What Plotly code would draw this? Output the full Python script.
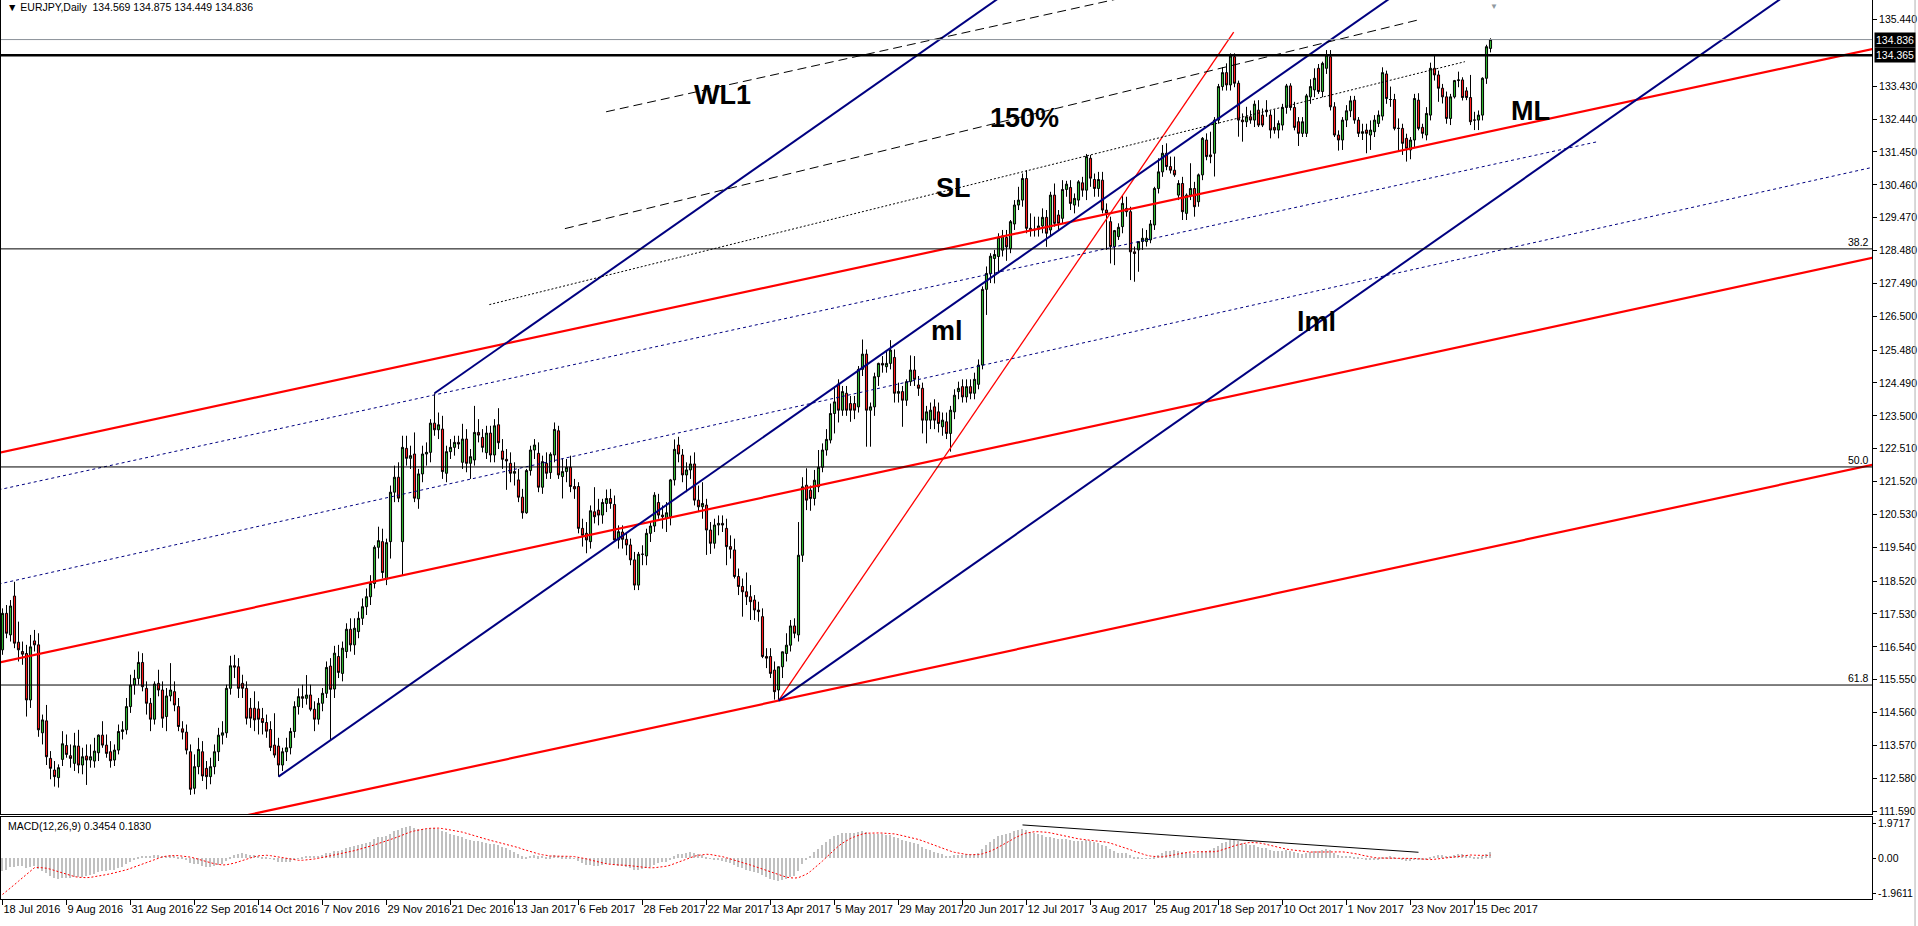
import plotly.graph_objects as go

# EURJPY daily candles, bar 0 = 18 Jul 2016, last bar = 21 Dec 2017
opens = [
    116.45, 117.55, 116.90, 118.07, 116.68, 116.40, 116.34, 114.94, 116.72, 116.60,
    113.95, 114.31, 113.18, 112.83, 112.60, 113.15, 113.57, 113.26, 113.03, 113.55,
    112.98, 113.25, 113.13, 113.10, 113.35, 113.88, 113.58, 113.38, 113.13, 113.43,
    113.99, 114.04, 114.74, 115.39, 115.59, 116.07, 115.29, 114.84, 114.36, 115.44,
    115.24, 114.44, 115.06, 115.19, 114.74, 114.07, 113.97, 113.38, 112.28, 112.93,
    113.38, 112.88, 112.63, 112.93, 113.38, 113.88, 113.95, 115.29, 115.97, 115.94,
    115.44, 115.29, 114.69, 114.69, 114.67, 114.38, 114.26, 114.05, 113.58, 113.55,
    112.98, 113.38, 113.50, 113.99, 114.74, 115.04, 114.99, 115.09, 114.66, 114.36,
    114.84, 115.14, 115.96, 115.27, 116.25, 115.74, 116.40, 117.07, 116.60, 117.00,
    117.40, 117.75, 118.05, 118.45, 119.54, 119.71, 118.58, 119.71, 121.20, 121.65,
    119.71, 122.52, 122.22, 122.35, 121.00, 121.75, 122.35, 122.40, 123.28, 123.08,
    123.10, 121.77, 122.42, 122.55, 122.70, 122.10, 122.80, 122.07, 122.17, 123.00,
    122.85, 122.39, 122.98, 122.32, 123.23, 122.44, 122.19, 122.07, 121.77, 121.57,
    121.05, 120.58, 121.85, 122.47, 122.37, 121.35, 122.07, 121.79, 122.32, 123.05,
    121.67, 121.82, 121.95, 121.37, 121.37, 120.11, 119.96, 119.71, 120.61, 120.66,
    120.51, 120.86, 121.01, 120.83, 119.76, 120.00, 119.78, 119.61, 119.16, 118.40,
    119.33, 119.28, 119.96, 120.18, 120.89, 120.51, 120.41, 120.46, 121.57, 122.62,
    122.32, 121.72, 121.87, 122.05, 120.96, 120.76, 120.81, 120.06, 119.66, 120.21,
    120.26, 120.11, 119.56, 119.46, 118.66, 118.36, 118.20, 118.05, 117.95, 117.65,
    117.45, 116.25, 116.25, 115.84, 115.24, 115.94, 116.34, 116.59, 117.17, 116.90,
    119.30, 121.41, 121.26, 121.01, 121.36, 121.95, 122.47, 122.77, 123.57, 124.46,
    123.67, 124.18, 123.87, 123.87, 123.77, 124.90, 125.36, 123.67, 123.77, 124.68,
    125.08, 124.98, 125.08, 125.26, 124.18, 124.23, 123.97, 124.53, 124.88, 124.43,
    124.33, 123.37, 123.37, 123.77, 123.62, 123.17, 123.32, 122.97, 123.62, 124.23,
    124.38, 124.07, 124.38, 124.18, 124.45, 125.03, 127.31, 127.79, 128.24, 128.30,
    128.49, 128.87, 128.54, 129.28, 129.85, 130.00, 130.65, 129.15, 129.10, 129.12,
    129.22, 129.48, 129.10, 130.15, 129.55, 129.45, 130.32, 130.38, 129.85, 130.00,
    130.52, 130.30, 131.26, 130.62, 130.35, 130.60, 129.70, 129.35, 128.60, 128.90,
    129.20, 129.75, 129.65, 128.44, 128.50, 128.75, 128.75, 128.80, 129.25, 130.35,
    130.85, 131.41, 131.01, 130.90, 130.15, 130.50, 129.60, 130.15, 130.35, 129.95,
    130.76, 131.81, 131.36, 131.41, 132.41, 133.42, 133.84, 133.47, 134.32, 133.52,
    132.41, 132.36, 132.51, 132.41, 132.71, 132.56, 132.71, 132.56, 132.19, 132.11,
    132.26, 132.79, 133.44, 132.79, 132.36, 132.01, 132.01, 133.11, 133.32, 133.97,
    133.27, 133.97, 134.32, 132.81, 131.96, 131.81, 132.41, 132.69, 133.01, 132.41,
    132.01, 132.11, 131.96, 132.06, 132.31, 132.53, 133.80, 133.03, 133.03, 132.16,
    132.16, 131.86, 131.51, 131.81, 133.01, 132.19, 131.96, 132.56, 133.97, 133.77,
    133.37, 133.11, 132.46, 133.11, 133.60, 133.62, 133.29, 133.09, 132.41, 132.41,
    132.56, 133.67, 134.569,
]
highs = [
    117.70, 117.80, 117.95, 118.50, 117.30, 116.70, 116.60, 116.90, 117.05, 116.95,
    114.50, 114.79, 113.40, 113.10, 113.00, 114.00, 113.90, 113.60, 113.95, 114.04,
    113.50, 113.60, 113.60, 113.80, 113.90, 114.30, 113.90, 113.70, 113.60, 114.20,
    114.30, 115.00, 115.70, 115.85, 116.40, 116.35, 115.50, 115.00, 115.50, 115.85,
    115.50, 115.30, 116.05, 115.50, 115.00, 114.30, 114.20, 113.60, 113.30, 113.80,
    113.70, 113.10, 113.20, 113.60, 114.10, 114.30, 115.40, 116.27, 116.30, 116.20,
    115.70, 115.50, 115.00, 115.20, 114.90, 114.70, 114.50, 114.30, 114.54, 113.80,
    113.50, 113.80, 114.10, 114.90, 115.29, 115.40, 115.69, 115.40, 114.90, 115.00,
    115.30, 116.10, 116.20, 116.57, 116.60, 116.70, 117.25, 117.40, 117.40, 117.60,
    118.00, 118.30, 118.70, 119.60, 120.16, 120.10, 119.80, 121.40, 122.00, 122.10,
    122.90, 122.90, 122.60, 123.00, 121.90, 122.60, 122.70, 123.40, 124.18, 123.60,
    123.50, 122.60, 122.80, 122.90, 122.90, 123.26, 123.10, 122.50, 123.80, 123.40,
    123.10, 123.20, 123.20, 123.40, 123.73, 122.80, 122.50, 122.40, 122.10, 121.90,
    121.30, 121.90, 122.60, 122.80, 122.70, 122.30, 122.40, 122.40, 123.30, 123.20,
    122.22, 122.20, 122.30, 121.60, 121.50, 120.40, 120.30, 120.80, 121.35, 121.00,
    121.00, 121.28, 121.30, 121.10, 120.20, 120.20, 120.00, 119.80, 119.40, 119.40,
    119.60, 120.10, 120.30, 121.20, 121.15, 120.80, 120.90, 121.60, 122.79, 122.87,
    122.50, 122.10, 122.30, 122.40, 121.40, 121.50, 121.00, 120.30, 120.40, 120.50,
    120.50, 120.40, 119.90, 119.80, 118.90, 118.60, 118.78, 118.40, 118.10, 117.90,
    117.70, 116.50, 116.50, 116.10, 115.95, 116.40, 116.95, 117.35, 117.40, 120.30,
    121.65, 121.92, 121.40, 121.87, 122.47, 122.67, 123.10, 123.87, 124.38, 124.60,
    124.40, 124.40, 124.10, 124.10, 125.00, 125.80, 125.50, 123.90, 124.80, 125.10,
    125.30, 125.48, 125.78, 125.50, 124.50, 124.40, 124.60, 125.32, 125.30, 124.70,
    124.50, 123.80, 123.90, 124.00, 123.90, 123.60, 123.60, 123.80, 124.30, 124.53,
    124.60, 124.60, 124.60, 124.80, 125.20, 127.40, 128.00, 128.40, 128.50, 129.00,
    129.10, 129.10, 129.40, 130.00, 130.40, 130.80, 130.90, 129.60, 129.50, 129.50,
    129.75, 129.70, 130.25, 130.50, 129.70, 130.60, 130.58, 130.60, 130.20, 130.60,
    130.70, 131.39, 131.36, 130.80, 130.85, 130.85, 129.90, 129.50, 129.10, 129.30,
    130.15, 130.10, 129.80, 128.60, 128.70, 129.15, 129.10, 129.40, 130.40, 131.26,
    131.66, 131.71, 131.31, 131.31, 130.60, 130.70, 130.20, 131.11, 130.55, 130.80,
    131.90, 132.01, 132.06, 132.50, 133.50, 134.00, 134.12, 134.42, 134.42, 133.60,
    132.61, 132.81, 132.70, 133.00, 133.01, 132.76, 133.01, 132.70, 132.73, 132.40,
    132.90, 133.50, 133.52, 132.96, 132.50, 132.50, 133.20, 133.64, 133.97, 134.10,
    134.17, 134.52, 134.52, 132.95, 132.10, 132.50, 132.86, 133.14, 133.14, 132.50,
    132.30, 132.30, 132.40, 132.56, 132.70, 134.00, 133.90, 133.42, 133.20, 132.46,
    132.30, 132.00, 131.90, 133.20, 133.22, 132.30, 132.80, 134.14, 134.40, 133.90,
    133.50, 133.27, 133.20, 133.62, 133.87, 133.70, 133.40, 133.77, 132.66, 132.70,
    133.70, 134.68, 134.875,
]
lows = [
    116.30, 116.80, 116.70, 116.50, 116.10, 116.00, 114.44, 114.70, 116.40, 113.83,
    113.60, 112.98, 112.55, 112.33, 112.30, 112.95, 113.20, 112.90, 112.80, 112.73,
    112.70, 112.38, 112.90, 112.90, 113.10, 113.50, 113.20, 112.90, 112.95, 113.30,
    113.75, 113.90, 114.55, 115.10, 115.40, 115.20, 114.50, 114.00, 114.20, 115.05,
    114.10, 114.00, 114.90, 114.60, 114.00, 113.75, 113.30, 112.08, 112.10, 112.70,
    112.50, 112.25, 112.40, 112.70, 113.10, 113.60, 113.80, 115.10, 115.60, 115.00,
    115.00, 114.20, 114.10, 114.00, 113.90, 113.90, 113.80, 113.40, 113.20, 112.63,
    112.80, 113.10, 113.30, 113.80, 114.50, 114.70, 114.80, 114.60, 114.00, 114.20,
    114.60, 115.00, 113.73, 115.00, 115.60, 115.50, 116.20, 116.40, 116.30, 116.80,
    117.20, 117.50, 117.80, 118.30, 119.20, 118.60, 118.40, 119.20, 120.90, 120.90,
    118.70, 122.00, 121.90, 120.90, 120.70, 121.50, 122.00, 122.10, 122.90, 122.80,
    121.60, 121.50, 122.20, 122.30, 122.50, 121.90, 121.80, 121.60, 122.00, 122.70,
    122.40, 122.20, 122.10, 122.10, 122.50, 121.90, 121.27, 121.50, 121.40, 120.90,
    120.40, 120.55, 121.70, 122.20, 121.20, 121.15, 121.60, 121.60, 122.10, 121.60,
    121.01, 121.50, 121.20, 121.00, 119.96, 119.56, 119.36, 119.50, 120.26, 120.20,
    120.25, 120.60, 120.70, 119.70, 119.50, 119.50, 119.30, 119.00, 118.25, 118.25,
    119.00, 119.00, 119.70, 120.00, 120.40, 120.10, 120.00, 120.20, 121.40, 122.10,
    121.50, 121.20, 121.60, 120.80, 120.60, 120.40, 119.31, 119.34, 119.50, 119.90,
    120.00, 119.00, 119.20, 118.60, 118.10, 117.45, 117.80, 117.35, 117.35, 117.30,
    116.20, 115.90, 115.60, 114.95, 114.92, 115.60, 116.10, 116.40, 116.80, 116.70,
    119.10, 120.66, 120.64, 120.80, 121.20, 121.80, 122.30, 122.67, 122.97, 123.30,
    123.50, 123.50, 123.32, 123.40, 123.60, 124.70, 122.57, 122.57, 123.50, 124.40,
    124.80, 124.80, 124.90, 123.90, 123.90, 123.17, 123.80, 124.40, 124.40, 124.10,
    122.97, 122.67, 123.10, 123.10, 123.00, 122.90, 122.80, 122.42, 123.40, 124.00,
    123.90, 123.90, 124.00, 124.00, 124.30, 124.90, 126.54, 127.50, 127.49, 127.80,
    128.30, 128.17, 128.40, 129.10, 129.70, 129.80, 129.00, 128.90, 128.90, 128.90,
    129.00, 128.59, 128.90, 129.20, 129.10, 129.30, 130.10, 129.70, 129.60, 129.80,
    130.10, 130.00, 130.40, 130.10, 130.10, 129.60, 128.50, 128.09, 128.04, 128.80,
    129.00, 129.50, 127.59, 127.54, 127.84, 128.50, 128.60, 128.70, 129.10, 130.20,
    130.70, 130.90, 130.80, 130.70, 130.00, 129.40, 129.40, 130.00, 129.50, 129.80,
    130.60, 131.20, 131.11, 130.71, 132.30, 133.30, 133.30, 133.30, 133.40, 131.91,
    131.76, 132.20, 132.30, 132.20, 132.20, 132.20, 132.51, 131.86, 132.00, 131.86,
    132.10, 132.60, 132.70, 132.10, 131.63, 131.90, 131.90, 132.90, 133.10, 133.20,
    133.10, 133.80, 132.70, 131.90, 131.49, 131.51, 132.20, 132.50, 132.30, 131.90,
    131.81, 131.41, 131.51, 131.90, 132.20, 132.40, 132.90, 132.81, 132.10, 131.46,
    131.36, 131.16, 131.23, 131.60, 132.10, 131.86, 131.80, 132.40, 133.60, 132.96,
    132.91, 132.30, 132.26, 133.06, 133.40, 133.00, 133.01, 132.26, 132.11, 132.11,
    132.40, 133.50, 134.449,
]
closes = [
    117.55, 116.95, 117.77, 116.65, 116.45, 116.32, 114.94, 116.54, 116.60, 114.04,
    114.34, 113.23, 112.88, 112.63, 112.90, 113.62, 113.30, 113.18, 113.56, 112.98,
    113.23, 113.13, 113.23, 113.40, 113.88, 113.58, 113.33, 113.11, 113.43, 113.99,
    114.04, 114.74, 115.39, 115.59, 116.07, 115.34, 114.84, 114.36, 115.42, 115.24,
    114.39, 115.06, 115.24, 114.79, 114.14, 113.97, 113.43, 112.25, 112.93, 113.45,
    112.65, 112.63, 112.93, 113.38, 113.88, 113.95, 115.29, 115.97, 115.93, 115.29,
    115.29, 114.39, 114.39, 114.34, 114.36, 114.26, 114.00, 113.51, 113.28, 112.98,
    113.38, 113.50, 113.99, 114.74, 115.04, 114.99, 115.09, 114.66, 114.36, 114.84,
    115.14, 115.92, 115.26, 116.35, 115.77, 116.50, 117.07, 116.60, 117.10, 117.40,
    117.75, 118.05, 118.45, 119.54, 119.74, 118.78, 119.68, 121.20, 121.65, 121.02,
    122.55, 122.22, 122.30, 121.02, 121.75, 122.35, 122.40, 123.28, 123.08, 123.23,
    121.82, 122.42, 122.55, 122.70, 122.65, 122.80, 122.07, 122.27, 123.00, 122.92,
    122.55, 122.98, 122.32, 123.20, 122.69, 122.19, 122.14, 121.77, 121.82, 121.05,
    120.58, 121.85, 122.47, 122.62, 121.35, 122.12, 121.77, 122.34, 123.09, 121.72,
    121.82, 121.95, 121.37, 121.30, 120.11, 119.90, 119.76, 120.64, 120.46, 120.51,
    120.89, 121.01, 120.86, 119.76, 120.01, 119.78, 119.61, 119.16, 118.40, 119.33,
    119.33, 119.96, 120.18, 121.11, 120.51, 120.46, 120.58, 121.57, 122.49, 122.35,
    121.72, 121.87, 122.05, 120.96, 120.76, 120.86, 120.06, 119.66, 120.21, 120.26,
    120.21, 119.56, 119.48, 118.66, 118.36, 118.20, 118.05, 117.90, 117.65, 117.60,
    116.25, 116.20, 115.74, 115.19, 115.94, 116.39, 116.59, 117.17, 116.95, 119.30,
    121.36, 120.96, 121.01, 121.56, 121.95, 122.47, 122.79, 123.57, 123.92, 123.67,
    124.23, 123.67, 123.67, 123.67, 124.90, 125.36, 123.67, 123.77, 124.68, 125.08,
    125.03, 125.08, 125.48, 124.18, 124.23, 123.97, 124.53, 124.88, 124.60, 124.33,
    123.37, 123.62, 123.67, 123.37, 123.27, 123.37, 122.97, 123.67, 124.12, 124.33,
    124.07, 124.38, 124.18, 124.60, 125.03, 127.31, 127.79, 128.31, 128.36, 128.88,
    128.92, 128.59, 129.35, 129.85, 130.00, 130.65, 129.15, 129.10, 129.12, 129.22,
    129.48, 129.00, 130.15, 129.30, 129.30, 130.32, 130.48, 129.90, 130.05, 130.55,
    130.30, 131.31, 130.66, 130.35, 130.62, 129.70, 129.60, 128.60, 129.08, 129.18,
    129.90, 129.65, 128.44, 128.39, 128.75, 128.85, 128.85, 129.28, 130.35, 130.85,
    131.41, 131.01, 130.90, 130.76, 130.50, 129.65, 130.15, 130.35, 129.80, 130.76,
    131.86, 131.31, 131.31, 132.41, 133.42, 133.84, 133.47, 134.34, 133.52, 132.41,
    132.36, 132.51, 132.41, 132.89, 132.26, 132.26, 132.66, 132.11, 132.11, 132.31,
    132.79, 133.44, 132.79, 132.19, 132.01, 132.36, 133.14, 133.42, 133.67, 133.27,
    134.12, 134.37, 132.81, 131.96, 131.81, 132.41, 132.69, 132.99, 132.41, 132.01,
    132.06, 132.01, 132.11, 132.41, 132.56, 133.84, 133.06, 133.03, 132.16, 132.16,
    131.71, 131.56, 131.81, 133.06, 132.16, 132.01, 132.61, 133.97, 133.77, 133.37,
    133.11, 132.46, 133.11, 133.60, 133.62, 133.09, 133.09, 132.36, 132.41, 132.56,
    133.67, 134.62, 134.836,
]
bars = list(range(len(closes)))

# date labels on the time scale (bar number -> label)
date_bars = [0, 16, 32, 48, 64, 80, 96, 112, 128, 144, 160, 176,
             192, 208, 224, 240, 256, 272, 288, 304, 320, 336, 352, 368]
date_labels = ["18 Jul 2016", "9 Aug 2016", "31 Aug 2016", "22 Sep 2016", "14 Oct 2016",
               "7 Nov 2016", "29 Nov 2016", "21 Dec 2016", "13 Jan 2017", "6 Feb 2017",
               "28 Feb 2017", "22 Mar 2017", "13 Apr 2017", "5 May 2017", "29 May 2017",
               "20 Jun 2017", "12 Jul 2017", "3 Aug 2017", "25 Aug 2017", "18 Sep 2017",
               "10 Oct 2017", "1 Nov 2017", "23 Nov 2017", "15 Dec 2017"]

price_ticks = [111.590, 112.580, 113.570, 114.560, 115.550, 116.540, 117.530, 118.520,
               119.540, 120.530, 121.520, 122.510, 123.500, 124.490, 125.480, 126.500,
               127.490, 128.480, 129.470, 130.460, 131.450, 132.440, 133.430, 135.440]
macd_ticks = [1.9717, 0.0, -1.9611]
macd_tick_text = ["1.9717", "0.00", "-1.9611"]

bid_price = 134.836
resistance = 134.365
fib_levels = [128.53, 121.96, 115.39]
fib_names = ["38.2", "50.0", "61.8"]

# navy Andrews pitchfork pivots: Oct 2016 low, Dec 2016 high, Apr 2017 low
pitch_bars = [69, 108, 194]
pitch_prices = [112.63, 124.18, 114.92]

# red channel (three parallel lines), price at bar -1 and bar 468
red_left = [122.385, 116.064, 109.854]
red_right = [134.566, 128.276, 122.036]
# red line from the April low to the September top
steep_bars = [194, 307.8]
steep_prices = [114.92, 135.06]

# navy dotted lines
dot_a_bars, dot_a_prices = [-1, 468], [118.43, 131.00]
dot_b_bars, dot_b_prices = [-1, 398.4], [121.27, 131.75]

# black dashed / dotted lines
wl1_bars, wl1_prices = [150.9, 290], [132.66, 136.36]
p150_bars, p150_prices = [140.6, 354], [129.14, 135.43]
sl_bars, sl_prices = [121.7, 365.6], [126.85, 134.17]

# text labels on the chart
tag_names = ["WL1", "150%", "SL", "ml", "lml", "ML"]
tag_bars = [179.9, 255.4, 237.8, 236.1, 328.4, 381.9]
tag_prices = [133.17, 132.46, 130.35, 126.06, 126.33, 132.69]

# MACD(12,26,9) seeds read from the left edge of the indicator window
ema_fast_start = 116.3
ema_slow_start = 117.2
macd_before_start = -2.2
macd_trend_bars = [255, 354]
macd_trend_values = [1.88, 0.34]

fast, slow = ema_fast_start, ema_slow_start
macd_main = []
for c in closes:
    fast += (c - fast) * 2 / 13
    slow += (c - slow) * 2 / 27
    macd_main.append(fast - slow)
padded = [macd_before_start] * 8 + macd_main
macd_signal = [sum(padded[i:i + 9]) / 9 for i in range(len(macd_main))]

FONT = "Liberation Sans"
X_LEFT, X_RIGHT = -0.375, 467.375
NAVY = "#000080"
RED = "#ff0000"

fig = go.Figure()

fig.add_trace(go.Candlestick(
    x=bars, open=opens, high=highs, low=lows, close=closes,
    increasing=dict(line=dict(color="black", width=1), fillcolor="#2fb52f"),
    decreasing=dict(line=dict(color="black", width=1), fillcolor="#ff1a1a"),
    whiskerwidth=0, hoverinfo="skip", xaxis="x", yaxis="y",
))


def add_line(xs, ys, color, width, dash="solid", xa="x", ya="y"):
    fig.add_trace(go.Scatter(x=xs, y=ys, mode="lines", hoverinfo="skip",
                             line=dict(color=color, width=width, dash=dash),
                             xaxis=xa, yaxis=ya))


# red channel
for lp, rp in zip(red_left, red_right):
    add_line([-1, 468], [lp, rp], RED, 2.2)
add_line(steep_bars, steep_prices, RED, 1.3)

# navy pitchfork: median from pivot A through the middle of B and C
mid_bar = (pitch_bars[1] + pitch_bars[2]) / 2
mid_price = (pitch_prices[1] + pitch_prices[2]) / 2
slope = (mid_price - pitch_prices[0]) / (mid_bar - pitch_bars[0])
for b, p in zip(pitch_bars, pitch_prices):
    add_line([b, X_RIGHT + 1], [p, p + slope * (X_RIGHT + 1 - b)], NAVY, 2)

add_line(dot_a_bars, dot_a_prices, NAVY, 1, "3px,3px")
add_line(dot_b_bars, dot_b_prices, NAVY, 1, "3px,3px")

add_line(wl1_bars, wl1_prices, "black", 1, "9px,5px")
add_line(p150_bars, p150_prices, "black", 1, "9px,5px")
add_line(sl_bars, sl_prices, "black", 1, "2px,2px")

# MACD window
fig.add_trace(go.Bar(x=bars, y=macd_main, width=0.3, marker=dict(color="#c0c0c0", line=dict(width=0)),
                     hoverinfo="skip", xaxis="x2", yaxis="y2"))
add_line(bars, macd_signal, RED, 1, "2px,2px", "x2", "y2")
add_line(macd_trend_bars, macd_trend_values, "black", 1, "solid", "x2", "y2")

shapes = []
for lvl in fib_levels:
    shapes.append(dict(type="line", xref="x", yref="y", x0=X_LEFT, x1=X_RIGHT, y0=lvl, y1=lvl,
                       line=dict(color="black", width=1)))
shapes.append(dict(type="line", xref="x", yref="y", x0=X_LEFT, x1=X_RIGHT, y0=resistance, y1=resistance,
                   line=dict(color="black", width=2.5)))
shapes.append(dict(type="line", xref="x", yref="y", x0=X_LEFT, x1=X_RIGHT, y0=bid_price, y1=bid_price,
                   line=dict(color="#8a9098", width=1)))
shapes.append(dict(type="line", xref="paper", yref="paper", x0=1.0230, x1=1.0230, y0=-0.031, y1=1.0,
                   line=dict(color="#b0b0b0", width=1)))

small = dict(family=FONT, size=10.5, color="black")
annotations = [
    dict(xref="paper", yref="paper", x=0, y=1, xanchor="left", yanchor="top", xshift=4, yshift=1,
         text="\u25bc EURJPY,Daily\u00a0\u00a0134.569 134.875 134.449 134.836", showarrow=False, font=small),
    dict(xref="paper", yref="y2 domain", x=0, y=1, xanchor="left", yanchor="top", xshift=5, yshift=-1,
         text="MACD(12,26,9) 0.3454 0.1830", showarrow=False, font=small),
    dict(xref="x", yref="paper", x=372.9, y=1, xanchor="center", yanchor="top", yshift=0,
         text="\u25bc", showarrow=False, font=dict(family=FONT, size=8, color="#9098a0")),
]
for lvl, name in zip(fib_levels, fib_names):
    annotations.append(dict(xref="x", yref="y", x=X_RIGHT, y=lvl, xanchor="right", yanchor="bottom",
                            xshift=-1, yshift=-1, text=name, showarrow=False, font=small))
for lvl in [bid_price, resistance]:
    annotations.append(dict(xref="paper", yref="y", x=1, y=lvl, xanchor="left", yanchor="middle",
                            xshift=2, text=f"{lvl:.3f}", showarrow=False, bgcolor="black", borderpad=1,
                            font=dict(family=FONT, size=10.5, color="white")))
for name, b, p in zip(tag_names, tag_bars, tag_prices):
    annotations.append(dict(xref="x", yref="y", x=b, y=p, xanchor="center", yanchor="middle",
                            text=f"<b>{name}</b>", showarrow=False,
                            font=dict(family=FONT, size=27, color="black")))

axis_common = dict(showgrid=False, zeroline=False, showline=True, mirror=True,
                   linecolor="black", linewidth=1, fixedrange=True)

fig.update_layout(
    width=1918, height=926,
    margin=dict(l=1, r=46, t=0, b=27),
    paper_bgcolor="white", plot_bgcolor="white",
    showlegend=False, boxgap=0.25, bargap=0,
    font=small,
    xaxis=dict(axis_common, domain=[0, 1], anchor="y", range=[X_LEFT, X_RIGHT],
               showticklabels=False, ticks="", rangeslider=dict(visible=False)),
    xaxis2=dict(axis_common, domain=[0, 1], anchor="y2", range=[X_LEFT, X_RIGHT],
                tickvals=date_bars, ticktext=date_labels, ticks="outside", ticklen=5,
                tickangle=0, automargin=False,
                tickcolor="black", ticklabelposition="outside right",
                tickfont=dict(family=FONT, size=11, color="black")),
    yaxis=dict(axis_common, domain=[0.0945, 1], anchor="x", side="right", range=[111.503, 136.028],
               tickvals=price_ticks, ticktext=[f"{t:.3f}" for t in price_ticks],
               ticks="outside", ticklen=4, tickcolor="black", tickfont=small, automargin=False),
    yaxis2=dict(axis_common, domain=[0, 0.0912], anchor="x2", side="right", range=[-2.293, 2.327],
                tickvals=macd_ticks, ticktext=macd_tick_text, automargin=False,
                ticks="outside", ticklen=3, tickcolor="black", tickfont=small),
    shapes=shapes,
    annotations=annotations,
)

fig.write_html("out.html", config={"displayModeBar": False},
               post_script="document.body.style.margin='0';")
